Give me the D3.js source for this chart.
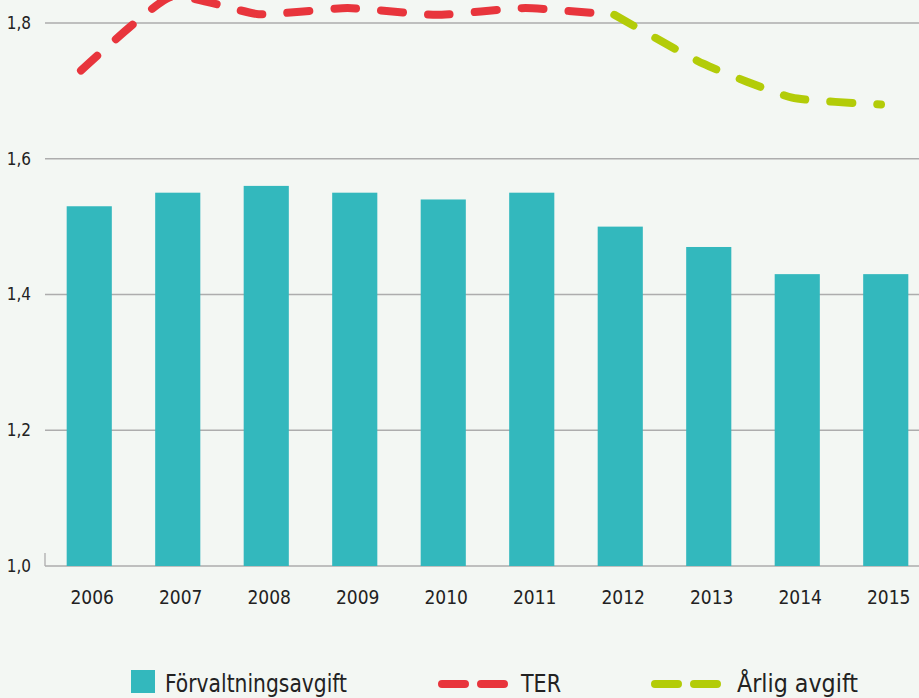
<!DOCTYPE html>
<html>
<head>
<meta charset="utf-8">
<script src="https://cdn.jsdelivr.net/npm/d3@7"></script>
<style>
  html, body { margin: 0; padding: 0; background: #f3f7f3; }
  svg { display: block; }
  text { font-family: "Liberation Sans Narrow", "DejaVu Sans Condensed", sans-serif; fill: #222; }
</style>
</head>
<body>
<div id="chart"></div>
<script>
// data
var years = ["2006", "2007", "2008", "2009", "2010", "2011", "2012", "2013", "2014", "2015"];
var forvaltning = [1.53, 1.55, 1.56, 1.55, 1.54, 1.55, 1.50, 1.47, 1.43, 1.43];
var ter = [1.73, 1.838, 1.813, 1.822, 1.812, 1.822, 1.812, null, null, null];
var arlig = [null, null, null, null, null, null, 1.812, 1.74, 1.69, 1.68];
var yTicks = [1.0, 1.2, 1.4, 1.6, 1.8];
var legendItems = ["Förvaltningsavgift", "TER", "Årlig avgift"];

var colors = { bar: "#33b8bd", ter: "#e8353c", arlig: "#b3cc08", grid: "#adadad" };

var width = 919, height = 698;

var svg = d3.select("#chart").append("svg")
	.attr("width", width)
	.attr("height", height);

var x = d3.scaleBand()
	.domain(years)
	.range([45, 930])
	.paddingInner(0.49)
	.paddingOuter(0.245);

// lines sit slightly left of bar centres in the original
var xLine = d3.scalePoint()
	.domain(years)
	.range([81, 881]);

var y = d3.scaleLinear()
	.domain([1.0, 1.8])
	.range([566, 23]);

var fmt = d3.formatLocale({ decimal: ",", thousands: " ", grouping: [3], currency: ["", " kr"] }).format(".1f");

// grid
var grid = svg.append("g").attr("class", "grid");
grid.selectAll("line")
	.data(yTicks)
	.enter()
	.append("line")
	.attr("x1", 45)
	.attr("x2", width)
	.attr("y1", function(d) { return y(d); })
	.attr("y2", function(d) { return y(d); })
	.attr("stroke", colors.grid)
	.attr("stroke-width", 1.3);

grid.append("line")
	.attr("x1", 45).attr("x2", 45)
	.attr("y1", y(1.0) - 13).attr("y2", y(1.0))
	.attr("stroke", colors.grid)
	.attr("stroke-width", 1.3);

svg.append("g")
	.selectAll("text")
	.data(yTicks)
	.enter()
	.append("text")
	.attr("x", 31)
	.attr("y", function(d) { return y(d); })
	.attr("dy", "0.35em")
	.attr("text-anchor", "end")
	.style("font-size", "17px")
	.text(function(d) { return fmt(d); });

// bars
svg.append("g")
	.selectAll("rect")
	.data(forvaltning)
	.enter()
	.append("rect")
	.attr("x", function(d, i) { return x(years[i]); })
	.attr("y", function(d) { return y(d); })
	.attr("width", x.bandwidth())
	.attr("height", function(d) { return y(1.0) - y(d); })
	.attr("fill", colors.bar);

// x labels
svg.append("g")
	.selectAll("text")
	.data(years)
	.enter()
	.append("text")
	.attr("x", function(d) { return x(d) + x.bandwidth() / 2 + 3; })
	.attr("y", 597)
	.attr("dy", "0.35em")
	.attr("text-anchor", "middle")
	.style("font-size", "19px")
	.text(function(d) { return d; });

// lines
var line = d3.line()
	.defined(function(d) { return d != null; })
	.x(function(d, i) { return xLine(years[i]); })
	.y(function(d) { return y(d); })
	.curve(d3.curveCardinal.tension(0.5));

function dashedPath(values, color) {
	svg.append("path")
		.datum(values)
		.attr("d", line)
		.attr("fill", "none")
		.attr("stroke", color)
		.attr("stroke-width", 8)
		.attr("stroke-linecap", "round")
		.attr("stroke-dasharray", "22 25");
}
dashedPath(ter, colors.ter);
dashedPath(arlig, colors.arlig);

// legend
var legend = svg.append("g").attr("class", "legend");
legend.append("rect")
	.attr("x", 131).attr("y", 670)
	.attr("width", 24).attr("height", 23)
	.attr("fill", colors.bar);

var legendText = [[165, 182], [521, 40], [737, 121]];

[[438, colors.ter], [651, colors.arlig]].forEach(function(it) {
	legend.append("path")
		.attr("d", "M" + (it[0] + 4) + "," + 684 + "H" + (it[0] + 66))
		.attr("stroke", it[1])
		.attr("stroke-width", 8)
		.attr("stroke-linecap", "round")
		.attr("stroke-dasharray", "23 16");
});

legend.selectAll("text")
	.data(legendItems)
	.enter()
	.append("text")
	.attr("x", function(d, i) { return legendText[i][0]; })
	.attr("y", 692)
	.attr("textLength", function(d, i) { return legendText[i][1]; })
	.attr("lengthAdjust", "spacingAndGlyphs")
	.style("font-size", "25px")
	.text(function(d) { return d; });
</script>
</body>
</html>
